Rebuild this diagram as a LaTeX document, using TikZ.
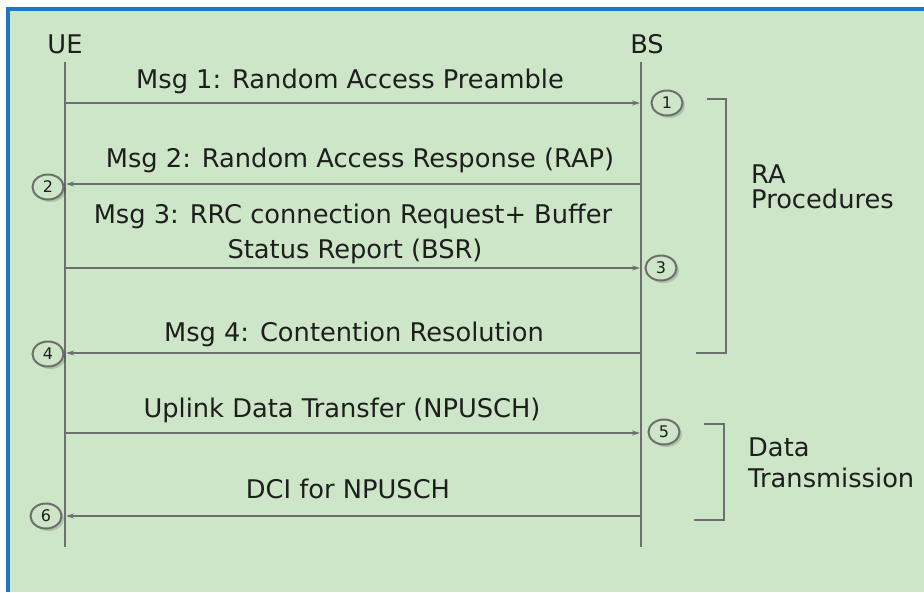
\documentclass[tikz,border=0pt]{standalone}
\usepackage{fontspec}
\setmainfont{DejaVu Sans}
\usetikzlibrary{arrows.meta,shapes.geometric,shadows}
\definecolor{panel}{HTML}{CDE6C7}
\definecolor{frame}{HTML}{1B76C4}
\definecolor{wire}{HTML}{6E6E6E}
\definecolor{ink}{HTML}{1E1E1E}
\tikzset{
  lifeline/.style={draw=wire,line width=2.4pt},
  msg/.style={draw=wire,line width=1.7pt,-{Stealth[length=8pt,width=5pt]}},
  msgtext/.style={font=\fontsize{25.7}{30}\selectfont,text=ink,anchor=base,inner sep=0pt},
  sidetext/.style={font=\fontsize{25.7}{30}\selectfont,text=ink,anchor=base west,inner sep=0pt},
  stepmark/.style={ellipse,draw=wire,line width=2pt,fill=panel,minimum width=31pt,minimum height=25pt,
    inner sep=0pt,font=\fontsize{16}{18}\selectfont,text=ink,
    drop shadow={fill=black,opacity=0.15,shadow xshift=2.5pt,shadow yshift=-2.5pt}},
  brace/.style={draw=wire,line width=2.2pt},
}
\begin{document}
\begin{tikzpicture}[x=1pt,y=-1pt]
\useasboundingbox (0,0) rectangle (924,592);
% panel
\fill[white] (0,0) rectangle (924,592);
\fill[panel] (8,9) rectangle (924,592);
\draw[frame,line width=3.5pt] (8,592) -- (8,9) -- (924,9);

% participants
\node[msgtext] (ue) at (65,53) {UE};
\node[msgtext] (bs) at (647,53) {BS};
\coordinate (uetop) at (65,62);
\coordinate (uebot) at (65,547);
\coordinate (bstop) at (641,62);
\coordinate (bsbot) at (641,547);
\draw[lifeline] (uetop) -- (uebot);
\draw[lifeline] (bstop) -- (bsbot);

% message rows
\foreach \i/\y in {1/103,2/184,3/268,4/353,5/433,6/516}{
  \coordinate (ue\i) at (66,\y);
  \coordinate (bs\i) at (640,\y);
}
\draw[msg] (ue1) -- (bs1);
\draw[msg] (bs2) -- (ue2);
\draw[msg] (ue3) -- (bs3);
\draw[msg] (bs4) -- (ue4);
\draw[msg] (ue5) -- (bs5);
\draw[msg] (bs6) -- (ue6);

\node[msgtext] (t1) at (350,88) {Msg 1: Random Access Preamble};
\node[msgtext] (t2) at (360,167) {Msg 2: Random Access Response (RAP)};
\node[msgtext] (t3a) at (353,223) {Msg 3: RRC connection Request+ Buffer};
\node[msgtext] (t3b) at (355,258) {Status Report (BSR)};
\node[msgtext] (t4) at (354,341) {Msg 4: Contention Resolution};
\node[msgtext] (t5) at (342,417) {Uplink Data Transfer (NPUSCH)};
\node[msgtext] (t6) at (348,498) {DCI for NPUSCH};

% step markers
\node[stepmark] (n1) at (667,103) {1};
\node[stepmark] (n2) at (48,187) {2};
\node[stepmark] (n3) at (661,268) {3};
\node[stepmark] (n4) at (48,354) {4};
\node[stepmark] (n5) at (664,432) {5};
\node[stepmark] (n6) at (46,516) {6};

% phase brackets
\coordinate (ra1) at (707,99);
\coordinate (ra2) at (726,99);
\coordinate (ra3) at (726,353);
\coordinate (ra4) at (696,353);
\draw[brace] (ra1) -- (ra2) -- (ra3) -- (ra4);
\node[sidetext] (ra) at (751,183) {RA};
\node[sidetext] (proc) at (751,208) {Procedures};

\coordinate (dt1) at (704,424);
\coordinate (dt2) at (724,424);
\coordinate (dt3) at (724,520);
\coordinate (dt4) at (694,520);
\draw[brace] (dt1) -- (dt2) -- (dt3) -- (dt4);
\node[sidetext] (data) at (748,456) {Data};
\node[sidetext] (trans) at (748,487) {Transmission};
\end{tikzpicture}
\end{document}
